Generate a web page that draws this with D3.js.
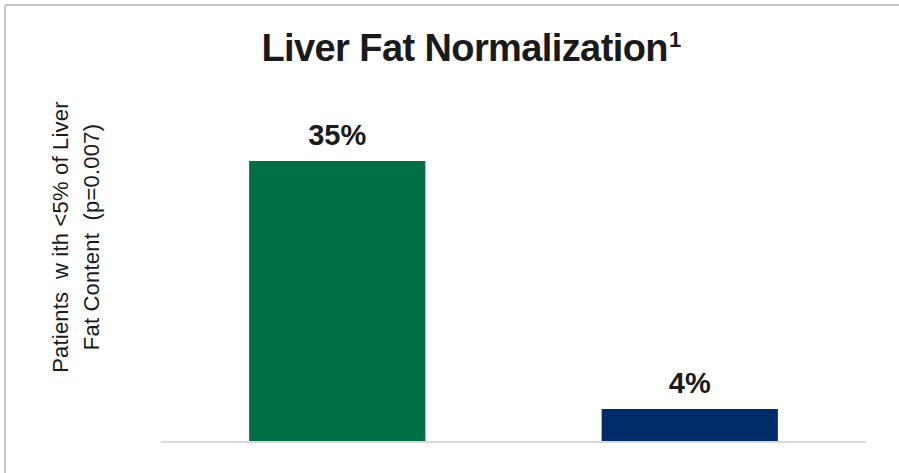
<!DOCTYPE html>
<html>
<head>
<meta charset="utf-8">
<script src="https://cdn.jsdelivr.net/npm/d3@7/dist/d3.min.js"></script>
<style>
  html, body { margin: 0; padding: 0; background: #ffffff; }
  svg { display: block; }
  text { font-family: "Liberation Sans", Arial, Helvetica, sans-serif; }
</style>
</head>
<body>
<svg id="chart" width="899" height="473"></svg>
<script>
// Share of patients reaching <5% liver fat content
const categories = ["Treatment", "Placebo"];
const values = [35, 4];
const valueLabels = ["35%", "4%"];
const barColors = ["#006f45", "#002d6a"];
const titleText = "Liver Fat Normalization";
const titleSup = "1";
const yTitleLines = ["Patients  w ith <5% of Liver", "Fat Content  (p=0.007)"];

const svg = d3.select("#chart");
const W = 899, H = 473;

// Frame lines along the top and left edges
svg.append("line").attr("x1", 5).attr("x2", W).attr("y1", 5).attr("y2", 5)
  .attr("stroke", "#c8c8c8").attr("stroke-width", 2);
svg.append("line").attr("x1", 5).attr("x2", 5).attr("y1", 5).attr("y2", H)
  .attr("stroke", "#c8c8c8").attr("stroke-width", 2);

const plot = { left: 161, right: 866, bottom: 441 };

const x = d3.scaleBand()
  .domain(categories)
  .range([plot.left, plot.right])
  .paddingInner(0.5)
  .paddingOuter(0.25);

const y = d3.scaleLinear()
  .domain([0, 40])
  .range([plot.bottom, plot.bottom - 320]);

// Bars
svg.append("g").selectAll("rect")
  .data(categories)
  .join("rect")
  .attr("x", d => x(d))
  .attr("width", x.bandwidth())
  .attr("y", (d, i) => y(values[i]))
  .attr("height", (d, i) => y(0) - y(values[i]))
  .attr("fill", (d, i) => barColors[i]);

// Category axis drawn as a plain baseline
const xAxis = svg.append("g")
  .attr("transform", `translate(0,${plot.bottom + 1})`)
  .call(d3.axisBottom(x).tickSize(0).tickFormat(""));
xAxis.select(".domain").attr("stroke", "#d9d9d9").attr("stroke-width", 2)
  .attr("d", `M${plot.left},0H${plot.right}`);

// Value labels
svg.append("g").selectAll("text")
  .data(categories)
  .join("text")
  .attr("x", d => x(d) + x.bandwidth() / 2)
  .attr("y", (d, i) => y(values[i]) - 16)
  .attr("text-anchor", "middle")
  .attr("font-size", 29)
  .attr("font-weight", "bold")
  .attr("fill", "#1a1a1a")
  .text((d, i) => valueLabels[i]);

// Title with superscript reference
const title = svg.append("text")
  .attr("x", 471)
  .attr("y", 61)
  .attr("text-anchor", "middle")
  .attr("font-size", 38)
  .attr("font-weight", "bold")
  .attr("letter-spacing", -0.6)
  .attr("fill", "#1a1a1a");
title.append("tspan").text(titleText);
title.append("tspan").attr("font-size", 22).attr("dy", -14).attr("dx", 1).text(titleSup);

// Rotated y-axis title, two lines
const yTitle = svg.append("text")
  .attr("transform", "translate(68,237) rotate(-90)")
  .attr("text-anchor", "middle")
  .attr("font-size", 22)
  .attr("letter-spacing", 0.2)
  .attr("fill", "#1a1a1a")
  .style("white-space", "pre");
yTitleLines.forEach((line, i) => {
  yTitle.append("tspan")
    .attr("x", 0)
    .attr("dy", i === 0 ? 0 : 31)
    .text(line);
});
</script>
</body>
</html>
